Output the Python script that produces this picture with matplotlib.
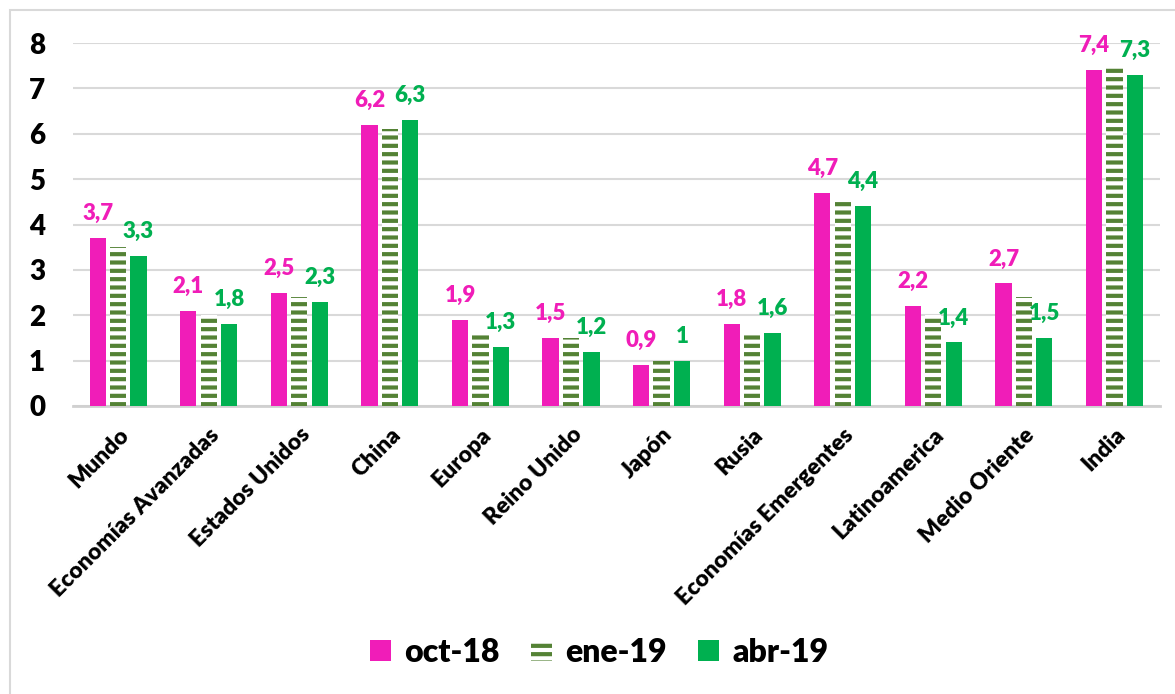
import numpy as np
import matplotlib
matplotlib.use('Agg')
import matplotlib.pyplot as plt
from matplotlib.patches import Rectangle, Patch

plt.rcParams['font.family'] = ['Lato', 'DejaVu Sans']
plt.rcParams['font.weight'] = 'heavy'
plt.rcParams['hatch.linewidth'] = 3.0

categories = ['Mundo', 'Economías Avanzadas', 'Estados Unidos', 'China', 'Europa',
              'Reino Unido', 'Japón', 'Rusia', 'Economías Emergentes',
              'Latinoamerica', 'Medio Oriente', 'India']
oct18 = [3.7, 2.1, 2.5, 6.2, 1.9, 1.5, 0.9, 1.8, 4.7, 2.2, 2.7, 7.4]
ene19 = [3.5, 2.0, 2.4, 6.1, 1.6, 1.5, 1.0, 1.6, 4.5, 2.0, 2.4, 7.5]
abr19 = [3.3, 1.8, 2.3, 6.3, 1.3, 1.2, 1.0, 1.6, 4.4, 1.4, 1.5, 7.3]
series_names = ['oct-18', 'ene-19', 'abr-19']

pink = '#F01DB8'
green = '#00B050'
dark_green = '#548235'

fig = plt.figure(figsize=(11.75, 6.94), dpi=100)
ax = fig.add_axes([0.062, 0.415, 0.925, 0.523])

x = np.arange(len(categories))
w = 0.18
step = 0.225

ax.bar(x - step, oct18, w, color=pink, zorder=3)
ax.bar(x, ene19, w, color='white', edgecolor=dark_green, linewidth=0,
       hatch='--', zorder=3)
ax.bar(x + step, abr19, w, color=green, zorder=3)


def fmt(v):
    s = ('%.1f' % v).replace('.', ',')
    if s.endswith(',0'):
        s = s[:-2]
    return s


for xi, v in zip(x - step, oct18):
    ax.annotate(fmt(v), (xi, v), xytext=(0, 13), textcoords='offset points',
                ha='center', va='baseline', color=pink, fontsize=16,
                fontweight='heavy', annotation_clip=False)
for xi, v in zip(x + step, abr19):
    ax.annotate(fmt(v), (xi, v), xytext=(0, 13), textcoords='offset points',
                ha='center', va='baseline', color=green, fontsize=16,
                fontweight='heavy', annotation_clip=False)

ax.set_xlim(-0.5, len(categories) - 0.5)
ax.set_ylim(0, 8)
ax.set_yticks(range(0, 9))
ax.yaxis.grid(True, color='#D9D9D9', linewidth=1.5, zorder=0)
ax.set_axisbelow(True)
for s in ['top', 'right', 'left']:
    ax.spines[s].set_visible(False)
ax.spines['bottom'].set_color('#D0D0D0')
ax.spines['bottom'].set_linewidth(2)
ax.tick_params(axis='y', length=0, pad=20, labelsize=20)
ax.tick_params(axis='x', length=0, pad=13)
ax.set_xticks(x)
ax.set_xticklabels(categories, rotation=45, ha='right', va='top',
                   rotation_mode='anchor', fontsize=16.5, fontweight='heavy')
for lab in ax.get_yticklabels():
    lab.set_fontweight('heavy')

handles = [Patch(facecolor=pink),
           Patch(facecolor='white', edgecolor=dark_green, linewidth=0, hatch='--'),
           Patch(facecolor=green)]
fig.legend(handles, series_names, loc='center', bbox_to_anchor=(0.51, 0.06),
           ncol=3, frameon=False, handlelength=0.65, handleheight=0.65,
           handletextpad=0.4, columnspacing=1.0,
           prop={'size': 23, 'weight': 'heavy'})

fig.add_artist(Rectangle((10 / 1175, -0.02), 1.0, 1 - 10 / 694 + 0.02,
                         transform=fig.transFigure, fill=False,
                         edgecolor='#D9D9D9', linewidth=1.5))

fig.savefig('out.png', dpi=100)
